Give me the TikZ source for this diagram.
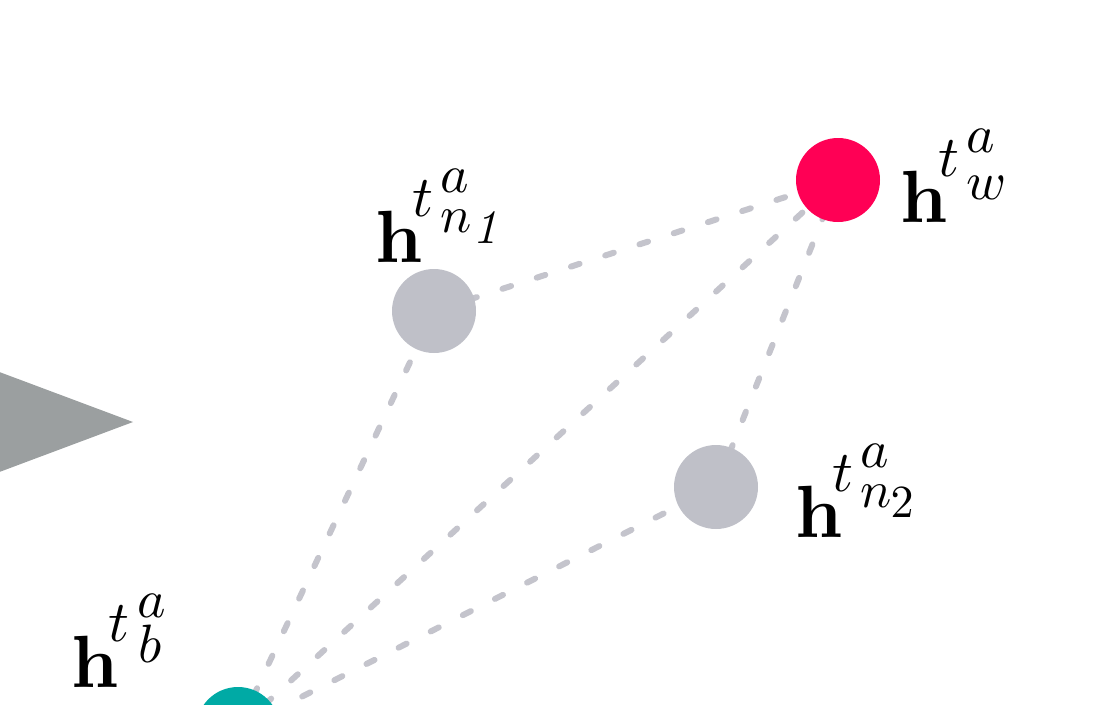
\RequirePackage{fix-cm}
\documentclass[tikz,border=0pt]{standalone}
\usepackage{graphicx}
\definecolor{nodegray}{RGB}{191,192,200}
\definecolor{linegray}{RGB}{196,196,204}
\definecolor{hotred}{RGB}{255,0,85}
\definecolor{tealc}{RGB}{0,170,165}
\definecolor{trigray}{RGB}{155,159,160}
\newcommand\hpart[4]{\rlap{\kern#1pt\raisebox{#2pt}{\scalebox{#3}{$#4$}}}}
\tikzset{
  vert/.style={circle, minimum size=84pt, inner sep=0pt},
  link/.style={draw=linegray, line width=6pt, line cap=round, dash pattern=on 9pt off 27pt},
  lab/.style={anchor=base west, inner sep=0pt, font=\fontsize{10}{12}\selectfont}
}
\begin{document}
\begin{tikzpicture}[x=1pt,y=-1pt]
\useasboundingbox (0,0) rectangle (1100,704);
\clip (0,0) rectangle (1100,704);
\fill[trigray] (-30,361) -- (133,422) -- (-30,483) -- cycle;
\coordinate (pn1) at (434,311);
\coordinate (pw) at (838,180);
\coordinate (pn2) at (716,487);
\coordinate (pb) at (238,729);
\draw[link] (pn1) -- (pw);
\draw[link] (pb) -- (pn1);
\draw[link] (pb) -- (pw);
\draw[link] (pb) -- (pn2);
\draw[link] (pn2) -- (pw);
\node[vert, fill=nodegray] (n1) at (pn1) {};
\node[vert, fill=hotred] (w) at (pw) {};
\node[vert, fill=nodegray] (n2) at (pn2) {};
\node[vert, fill=tealc] (b) at (pb) {};
\node[lab] (ln1) at (375,262) {\hpart{0}{0}{7.4}{\mathbf{h}}\hpart{37}{46}{5.8}{t}\hpart{65}{70}{5.4}{a}\hpart{65}{30}{5.2}{n}\hpart{97}{19}{4.8}{\mathit{1}}};
\node[lab] (lw) at (900,222) {\hpart{0}{0}{7.4}{\mathbf{h}}\hpart{38}{46}{5.8}{t}\hpart{66}{70}{5.4}{a}\hpart{66}{23}{5.4}{w}};
\node[lab] (ln2) at (795,537) {\hpart{0}{0}{7.4}{\mathbf{h}}\hpart{37}{46}{5.8}{t}\hpart{65}{70}{5.4}{a}\hpart{65}{30}{5.2}{n}\hpart{95}{20}{4.6}{2}};
\node[lab] (lb) at (71,687) {\hpart{0}{0}{7.4}{\mathbf{h}}\hpart{37}{46}{5.8}{t}\hpart{66}{70}{5.4}{a}\hpart{67}{25}{5.4}{b}};
\end{tikzpicture}
\end{document}
